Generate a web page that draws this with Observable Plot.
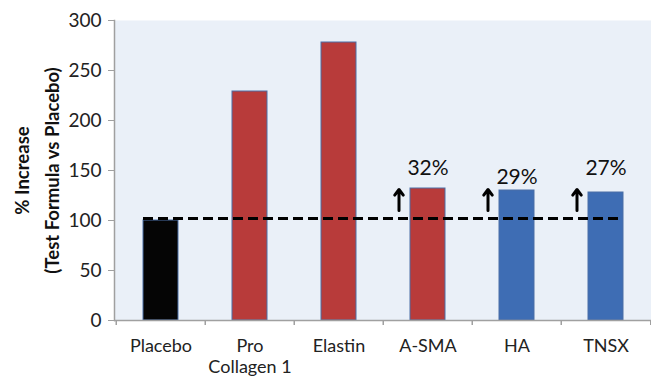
<!DOCTYPE html>
<html>
<head>
<meta charset="utf-8">
<script src="https://cdn.jsdelivr.net/npm/d3@7"></script>
<script src="https://cdn.jsdelivr.net/npm/@observablehq/plot@0.6"></script>
<style>
  html, body { margin: 0; padding: 0; background: #ffffff; }
  #chart { width: 651px; height: 379px; }
</style>
</head>
<body>
<div id="chart"></div>
<script>
const categories = ["Placebo", "Pro Collagen 1", "Elastin", "A-SMA", "HA", "TNSX"];
const tickLabels = ["Placebo", "Pro\nCollagen 1", "Elastin", "A-SMA", "HA", "TNSX"];
const values = [100, 229, 278, 132, 130, 128];
const groups = ["placebo", "red", "red", "red", "blue", "blue"];
const baseline = 102;
const increaseCats = ["A-SMA", "HA", "TNSX"];
const increaseLabels = ["32%", "29%", "27%"];
const arrowFrom = 110;
const arrowTo = 131;
const yTicks = [0, 50, 100, 150, 200, 250, 300];
const yTitle = "% Increase\n(Test Formula vs Placebo)";

const colors = {placebo: "#050505", red: "#B83B3A", blue: "#3E6DB4"};

const data = categories.map((c, i) => ({cat: c, value: values[i], group: groups[i]}));
const incData = increaseCats.map((c, i) => ({cat: c, label: increaseLabels[i], value: values[categories.indexOf(c)]}));
const labelMap = new Map(categories.map((c, i) => [c, tickLabels[i]]));

const font = "Lato, 'Open Sans', sans-serif";
const step = (651 - 114) / categories.length;
const labelDy = [-20, -13, -24];

const chart = Plot.plot({
  width: 651,
  height: 379,
  marginLeft: 114,
  marginRight: 0,
  marginTop: 20,
  marginBottom: 59,
  style: {fontFamily: font, fontSize: "18px", color: "#222", background: "transparent"},
  x: {domain: categories, paddingInner: 0.61, paddingOuter: 0.305, axis: null},
  y: {domain: [0, 300], axis: null},
  marks: [
    Plot.frame({fill: "#EAF0F8", stroke: null}),
    Plot.barY(data, {x: "cat", y: "value", fill: d => colors[d.group], stroke: "#4A6FA5", strokeWidth: 1}),
    Plot.ruleY([baseline], {x1: () => categories[0], x2: () => categories[categories.length - 1], stroke: "#000", strokeWidth: 3, strokeDasharray: "10,5"}),
    Plot.arrow(incData, {x1: "cat", x2: "cat", y1: () => arrowFrom, y2: () => arrowTo, dx: -29, stroke: "#000", strokeWidth: 3, headLength: 9, headAngle: 75}),
    ...incData.map((d, i) => Plot.text([d], {x: "cat", y: "value", text: "label", dy: labelDy[i], fontSize: 21, fill: "#111", fontFamily: font})),
    Plot.ruleY([0], {stroke: "#A0A0A0", strokeWidth: 1.5}),
    Plot.frame({anchor: "left", stroke: "#A0A0A0", strokeWidth: 1.5}),
    Plot.ruleX(categories, {x: d => d, y1: 0, y2: -5, dx: -step / 2, stroke: "#A0A0A0", strokeWidth: 1.5}),
    Plot.ruleX([categories[categories.length - 1]], {x: d => d, y1: 0, y2: -5, dx: step / 2, stroke: "#A0A0A0", strokeWidth: 1.5}),
    Plot.axisY({ticks: yTicks, tickSize: 6, stroke: "#A0A0A0", text: null, label: null}),
    Plot.text(yTicks, {y: d => d, frameAnchor: "left", dx: -13, textAnchor: "end", text: d => String(d), fontSize: "19px", fill: "#222", fontFamily: font}),
    Plot.axisX({tickSize: 0, tickPadding: 16, fontSize: 18, label: null, tickFormat: d => labelMap.get(d), lineAnchor: "top", lineHeight: 1.2, fill: "#222"}),
    Plot.text([yTitle], {frameAnchor: "left", dx: -80, rotate: -90, textAnchor: "middle", lineAnchor: "middle", fontSize: "18.5px", fontWeight: "bold", fill: "#111", lineHeight: 1.6, fontFamily: font})
  ]
});
document.getElementById("chart").appendChild(chart);
</script>
</body>
</html>
